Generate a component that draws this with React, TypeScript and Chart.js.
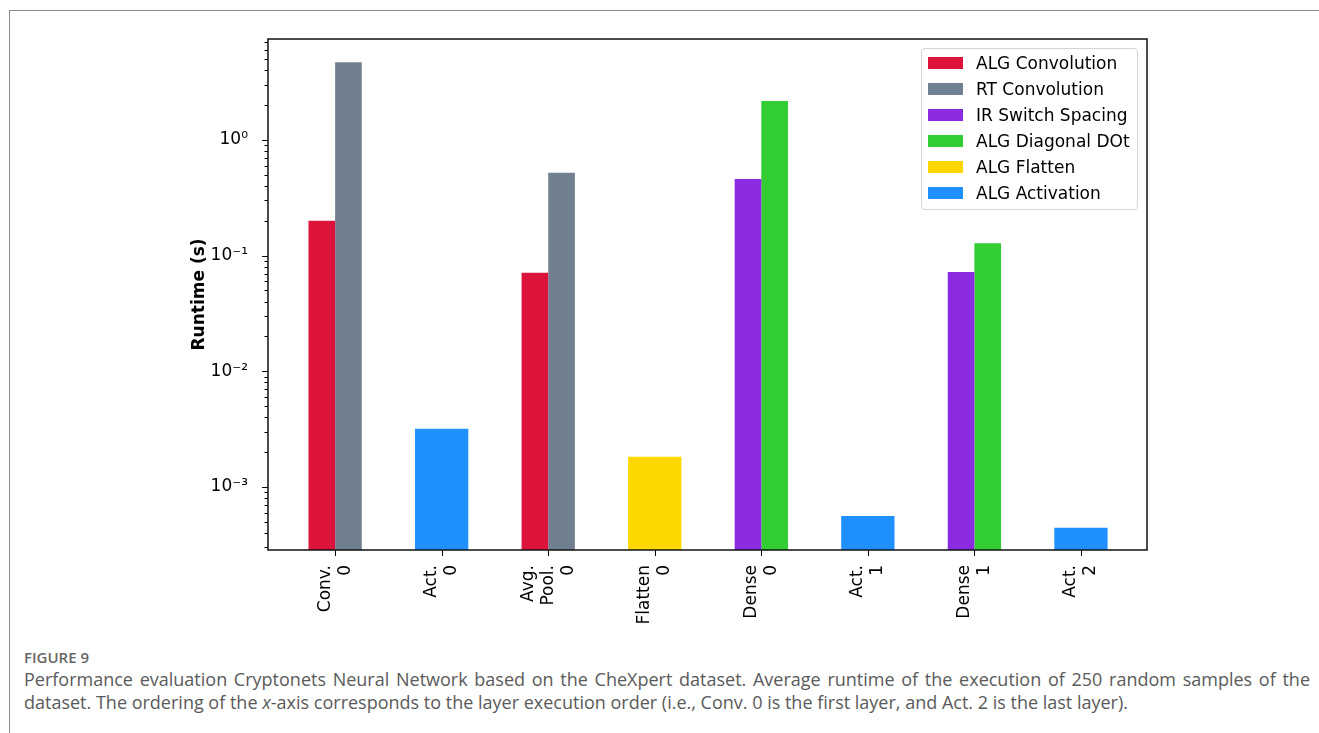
import React, { useEffect, useRef } from "react";
import { Chart, registerables } from "chart.js";

Chart.register(...registerables);

// ---------- data ----------
const categories = ["Conv. 0", "Act. 0", "Avg. Pool. 0", "Flatten 0", "Dense 0", "Act. 1", "Dense 1", "Act. 2"];
const xTickLabels: string[][] = [
  ["Conv.", "0"],
  ["Act.", "0"],
  ["Avg.", "Pool.", "0"],
  ["Flatten", "0"],
  ["Dense", "0"],
  ["Act.", "1"],
  ["Dense", "1"],
  ["Act.", "2"],
];

const seriesNames = [
  "ALG Convolution",
  "RT Convolution",
  "IR Switch Spacing",
  "ALG Diagonal DOt",
  "ALG Flatten",
  "ALG Activation",
];
const seriesColors = ["#DC143C", "#708090", "#8A2BE2", "#32CD32", "#FFD700", "#1E90FF"];

const algConvolution = [0.2, null, 0.071, null, null, null, null, null];
const rtConvolution = [4.7, null, 0.52, null, null, null, null, null];
const irSwitchSpacing = [null, null, null, null, 0.46, null, 0.072, null];
const algDiagonalDot = [null, null, null, null, 2.17, null, 0.128, null];
const algFlatten = [null, null, null, 0.00182, null, null, null, null];
const algActivation = [null, 0.00318, null, null, null, 0.00056, null, 0.000443];

const seriesValues = [algConvolution, rtConvolution, irSwitchSpacing, algDiagonalDot, algFlatten, algActivation];

const yTickValues = [1e-3, 1e-2, 1e-1, 1];
const yTickLabels = ["10\u207B\u00B3", "10\u207B\u00B2", "10\u207B\u00B9", "10\u2070"];
const yMin = 2.85e-4;
const yMax = 7.46;
const xMin = -0.63;
const xMax = 7.62;

const yTitle = "Runtime (s)";
const figureLabel = "FIGURE 9";
const captionText =
  "Performance evaluation Cryptonets Neural Network based on the CheXpert dataset. Average runtime of the execution of 250 random samples of the dataset. The ordering of the ";
const captionItalic = "x";
const captionText2 =
  "-axis corresponds to the layer execution order (i.e., Conv. 0 is the first layer, and Act. 2 is the last layer).";

const FONT = "'DejaVu Sans', sans-serif";

const framePlugin = {
  id: "mplFrame",
  afterDatasetsDraw(chart: any) {
    const { ctx, chartArea } = chart;
    const x = chart.scales.x;
    const y = chart.scales.y;
    ctx.save();
    ctx.strokeStyle = "#000";
    ctx.lineWidth = 1;
    y.ticks.forEach((t: any) => {
      const py = Math.round(y.getPixelForValue(t.value)) + 0.5;
      const lg = Math.log10(t.value);
      const major = Math.abs(lg - Math.round(lg)) < 1e-6;
      const len = major ? 6 : 3.5;
      ctx.beginPath();
      ctx.moveTo(chartArea.left - len, py);
      ctx.lineTo(chartArea.left, py);
      ctx.stroke();
    });
    x.ticks.forEach((t: any) => {
      const px = Math.round(x.getPixelForValue(t.value)) + 0.5;
      ctx.beginPath();
      ctx.moveTo(px, chartArea.bottom);
      ctx.lineTo(px, chartArea.bottom + 6);
      ctx.stroke();
    });
    ctx.fillStyle = "#000";
    ctx.font = `17px ${FONT}`;
    ctx.textAlign = "right";
    ctx.textBaseline = "middle";
    const lh = 20;
    x.ticks.forEach((t: any, i: number) => {
      const lines = xTickLabels[i] || [];
      const px = x.getPixelForValue(t.value);
      ctx.save();
      ctx.translate(px, chartArea.bottom + 15);
      ctx.rotate(-Math.PI / 2);
      lines.forEach((l: string, j: number) => {
        ctx.fillText(l, 0, (j - (lines.length - 1) / 2) * lh);
      });
      ctx.restore();
    });
    ctx.lineWidth = 1.5;
    ctx.strokeStyle = "#111";
    ctx.strokeRect(chartArea.left, chartArea.top, chartArea.right - chartArea.left, chartArea.bottom - chartArea.top);
    ctx.restore();
  },
};

function ChartCanvas() {
  const ref = useRef<HTMLCanvasElement | null>(null);
  useEffect(() => {
    if (!ref.current) return;
    const datasets = seriesNames.map((name, k) => ({
      label: name,
      data: seriesValues[k].map((v, i) => ({ x: i, y: v })),
      backgroundColor: seriesColors[k],
      borderWidth: 0,
      skipNull: true,
      categoryPercentage: 0.5,
      barPercentage: 1,
    }));
    const chart = new Chart(ref.current, {
      type: "bar",
      data: { datasets: datasets as any },
      plugins: [framePlugin],
      options: {
        responsive: false,
        animation: false,
        devicePixelRatio: 1,
        layout: { padding: { left: 189, top: 39, right: 172, bottom: 0 } },
        plugins: { legend: { display: false }, tooltip: { enabled: false } },
        scales: {
          x: {
            type: "linear",
            offset: false,
            min: xMin,
            max: xMax,
            grid: { display: false, offset: false },
            border: { display: false },
            afterBuildTicks: (axis: any) => {
              axis.ticks = categories.map((_, i) => ({ value: i }));
            },
            afterFit: (scale: any) => {
              scale.height = 90;
            },
            ticks: { display: false, autoSkip: false },
          },
          y: {
            type: "logarithmic",
            min: yMin,
            max: yMax,
            grid: { display: false },
            border: { display: false },
            afterBuildTicks: (axis: any) => {
              axis.ticks = axis.ticks.filter((t: any) => {
                const e = Math.floor(Math.log10(t.value) + 1e-9);
                const m = t.value / Math.pow(10, e);
                return Math.abs(m - Math.round(m)) < 1e-6 && t.value >= yMin && t.value <= yMax;
              });
            },
            afterFit: (scale: any) => {
              scale.width = 268 - 189;
            },
            ticks: {
              autoSkip: false,
              padding: 12,
              color: "#000",
              font: { family: FONT, size: 17 },
              callback: (value: any) => {
                const idx = yTickValues.findIndex((v) => Math.abs(v - Number(value)) / v < 1e-6);
                return idx >= 0 ? yTickLabels[idx] : "";
              },
            },
            title: {
              display: true,
              text: yTitle,
              color: "#000",
              padding: 0,
              font: { family: FONT, size: 17, weight: "bold" },
            },
          },
        },
      } as any,
    });
    return () => chart.destroy();
  }, []);
  return <canvas ref={ref} width={1319} height={640} style={{ position: "absolute", left: 0, top: 0 }} />;
}

function Legend() {
  return (
    <div
      style={{
        position: "absolute",
        left: 921,
        top: 48,
        width: 215,
        height: 159,
        border: "1px solid #d4d4d4",
        borderRadius: 4,
        background: "rgba(255,255,255,0.85)",
        paddingTop: 1,
        boxSizing: "content-box",
        fontFamily: FONT,
        fontSize: 17,
        color: "#000",
      }}
    >
      {seriesNames.map((n, i) => (
        <div key={n} style={{ height: 26, position: "relative" }}>
          <span
            style={{
              position: "absolute",
              left: 6,
              top: 7,
              width: 35,
              height: 12,
              background: seriesColors[i],
            }}
          />
          <span style={{ position: "absolute", left: 54, top: 0, lineHeight: "26px", whiteSpace: "nowrap" }}>{n}</span>
        </div>
      ))}
    </div>
  );
}

export default function App() {
  return (
    <div style={{ position: "absolute", left: 0, top: 0, width: 1319, height: 733, overflow: "hidden", background: "#fff" }}>
      <div
        style={{
          position: "absolute",
          left: 9,
          top: 10,
          width: 1310,
          height: 740,
          borderTop: "1px solid #8c8c8c",
          borderLeft: "1px solid #8c8c8c",
        }}
      />
      <ChartCanvas />
      <Legend />
      <div
        style={{
          position: "absolute",
          left: 24,
          top: 646,
          width: 1286,
          fontFamily: "'Open Sans', sans-serif",
          color: "#5a5a5a",
        }}
      >
        <div style={{ fontSize: 15, fontWeight: 600, lineHeight: "22px", color: "#666" }}>{figureLabel}</div>
        <div style={{ fontSize: 18, lineHeight: "23px", textAlign: "justify" }}>
          {captionText}
          <i>{captionItalic}</i>
          {captionText2}
        </div>
      </div>
    </div>
  );
}
